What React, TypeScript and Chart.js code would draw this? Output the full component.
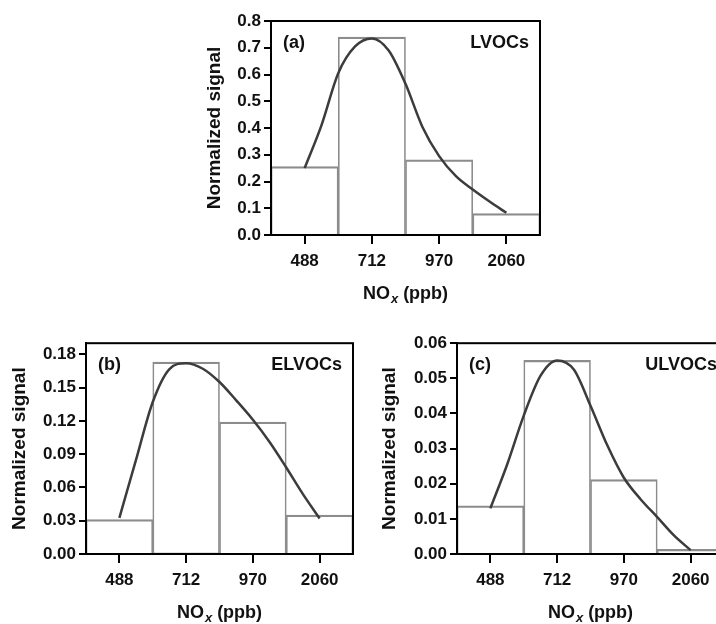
import React, { useEffect, useRef } from "react";
import { Chart, registerables } from "chart.js";

Chart.register(...registerables);

// ---------- data ----------
const NOX_LABELS = ["488", "712", "970", "2060"];
// positions (in category units) at which the fitted curve was read
const CURVE_POS = [0, 0.25, 0.5, 0.75, 1, 1.25, 1.5, 1.75, 2, 2.25, 2.5, 2.75, 3];

const LVOC_BARS = [0.256, 0.74, 0.281, 0.08];
const LVOC_CURVE = [0.25, 0.41, 0.605, 0.705, 0.735, 0.69, 0.565, 0.405, 0.295, 0.22, 0.17, 0.125, 0.083];

const ELVOC_BARS = [0.031, 0.173, 0.119, 0.035];
const ELVOC_CURVE = [0.0326, 0.085, 0.137, 0.1667, 0.172, 0.167, 0.155, 0.1385, 0.121, 0.101, 0.078, 0.054, 0.032];

const ULVOC_BARS = [0.0137, 0.0551, 0.0212, 0.0013];
const ULVOC_CURVE = [0.013, 0.0254, 0.0394, 0.0507, 0.0551, 0.0525, 0.0422, 0.031, 0.0217, 0.0156, 0.0105, 0.0053, 0.0011];

const Y_TITLE = "Normalized signal";

const FONT = "'Liberation Sans', Arial, Helvetica, sans-serif";
const TEXT = "#111111";

type PanelProps = {
  left: number;
  top: number;
  width: number;
  height: number;
  yWidth: number;
  xHeight: number;
  padTop: number;
  padRight: number;
  titlePad: number;
  yMax: number;
  step: number;
  decimals: number;
  bars: number[];
  curve: number[];
  tag: string;
  name: string;
  nameInset: number;
};

function Panel(p: PanelProps) {
  const ref = useRef<HTMLCanvasElement>(null);

  useEffect(() => {
    const canvas = ref.current;
    if (!canvas) return;

    const decor = {
      id: "decor",
      afterDatasetsDraw(chart: any) {
        const { ctx, chartArea: a } = chart;
        ctx.save();
        ctx.strokeStyle = "#000";
        ctx.lineWidth = 2;
        ctx.strokeRect(a.left, a.top, a.right - a.left, a.bottom - a.top);

        ctx.fillStyle = TEXT;
        ctx.font = `bold 18px ${FONT}`;
        ctx.textBaseline = "middle";
        ctx.textAlign = "left";
        ctx.fillText(p.tag, a.left + 12, a.top + 22);
        ctx.textAlign = "right";
        ctx.fillText(p.name, a.right - p.nameInset, a.top + 22);

        // x-axis title with subscript italic x
        const big = `bold 18px ${FONT}`;
        const small = `italic bold 13px ${FONT}`;
        ctx.font = big;
        const w1 = ctx.measureText("NO").width;
        const w3 = ctx.measureText(" (ppb)").width;
        ctx.font = small;
        const w2 = ctx.measureText("x").width + 1;
        const total = w1 + w2 + w3;
        let x = (a.left + a.right) / 2 - total / 2;
        const y = a.bottom + 59;
        ctx.textAlign = "left";
        ctx.font = big;
        ctx.fillText("NO", x, y);
        x += w1;
        ctx.font = small;
        ctx.fillText("x", x + 1, y + 5);
        x += w2;
        ctx.font = big;
        ctx.fillText(" (ppb)", x, y);
        ctx.restore();
      },
    };

    const tickFont = { family: FONT, size: 17, weight: "bold" as const };

    const chart = new Chart(canvas, {
      type: "bar",
      data: {
        labels: NOX_LABELS,
        datasets: [
          {
            type: "bar" as const,
            data: p.bars,
            xAxisID: "x",
            yAxisID: "y",
            backgroundColor: "rgba(255,255,255,0)",
            borderColor: "#8c8c8c",
            borderWidth: { top: 1.6, left: 1, right: 1, bottom: 0 },
            borderSkipped: false,
            barPercentage: 1,
            categoryPercentage: 1,
            grouped: false,
            order: 1,
          } as any,
          {
            type: "line" as const,
            data: CURVE_POS.map((x, i) => ({ x, y: p.curve[i] })),
            xAxisID: "x2",
            yAxisID: "y",
            borderColor: "#3c3c3c",
            borderWidth: 2.5,
            pointRadius: 0,
            cubicInterpolationMode: "monotone" as const,
            fill: false,
            order: 0,
          } as any,
        ],
      },
      options: {
        animation: false,
        responsive: false,
        layout: { padding: { top: p.padTop, right: p.padRight, left: 0, bottom: 0 } },
        plugins: {
          legend: { display: false },
          tooltip: { enabled: false },
        },
        scales: {
          x: {
            type: "category",
            offset: true,
            stacked: false,
            grid: {
              offset: false,
              drawOnChartArea: false,
              drawTicks: true,
              tickLength: 9,
              color: "#000",
              lineWidth: 2,
            },
            border: { display: true, color: "#000", width: 2 },
            ticks: { color: TEXT, font: tickFont, padding: 7, maxRotation: 0, autoSkip: false },
            afterFit: (s: any) => {
              s.height = p.xHeight;
            },
          } as any,
          x2: {
            type: "linear",
            display: false,
            offset: false,
            bounds: "data",
            min: -0.5,
            max: 3.5,
            grid: { offset: false },
          } as any,
          y: {
            type: "linear",
            min: 0,
            max: p.yMax,
            grid: {
              drawOnChartArea: false,
              drawTicks: true,
              tickLength: 7,
              color: "#000",
              lineWidth: 2,
            },
            border: { display: true, color: "#000", width: 2 },
            ticks: {
              stepSize: p.step,
              includeBounds: false,
              color: TEXT,
              font: tickFont,
              padding: 3,
              callback: (v: any) => Number(v).toFixed(p.decimals),
            },
            title: {
              display: true,
              text: Y_TITLE,
              color: TEXT,
              font: { family: FONT, size: 19, weight: "bold" },
              padding: { top: p.titlePad, bottom: 0 },
            },
            afterFit: (s: any) => {
              s.width = p.yWidth;
            },
          } as any,
        },
      },
      plugins: [decor],
    });

    return () => chart.destroy();
  }, []);

  return (
    <canvas
      ref={ref}
      width={p.width}
      height={p.height}
      style={{
        position: "absolute",
        left: p.left,
        top: p.top,
        width: p.width,
        height: p.height,
      }}
    />
  );
}

export default function App() {
  return (
    <div
      style={{
        position: "fixed",
        left: 0,
        top: 0,
        width: 716,
        height: 624,
        overflow: "hidden",
        background: "#ffffff",
      }}
    >
      <Panel
        left={200}
        top={0}
        width={350}
        height={310}
        yWidth={71}
        xHeight={75}
        padTop={21}
        padRight={10}
        titlePad={3.6}
        yMax={0.8}
        step={0.1}
        decimals={1}
        bars={LVOC_BARS}
        curve={LVOC_CURVE}
        tag="(a)"
        name="LVOCs"
        nameInset={11}
      />
      <Panel
        left={0}
        top={330}
        width={360}
        height={294}
        yWidth={86}
        xHeight={70}
        padTop={10}
        padRight={7}
        titlePad={8.3}
        yMax={0.19}
        step={0.03}
        decimals={2}
        bars={ELVOC_BARS}
        curve={ELVOC_CURVE}
        tag="(b)"
        name="ELVOCs"
        nameInset={11}
      />
      <Panel
        left={360}
        top={330}
        width={380}
        height={294}
        yWidth={97}
        xHeight={70}
        padTop={10}
        padRight={16}
        titlePad={18.6}
        yMax={0.06}
        step={0.01}
        decimals={2}
        bars={ULVOC_BARS}
        curve={ULVOC_CURVE}
        tag="(c)"
        name="ULVOCs"
        nameInset={7}
      />
    </div>
  );
}
